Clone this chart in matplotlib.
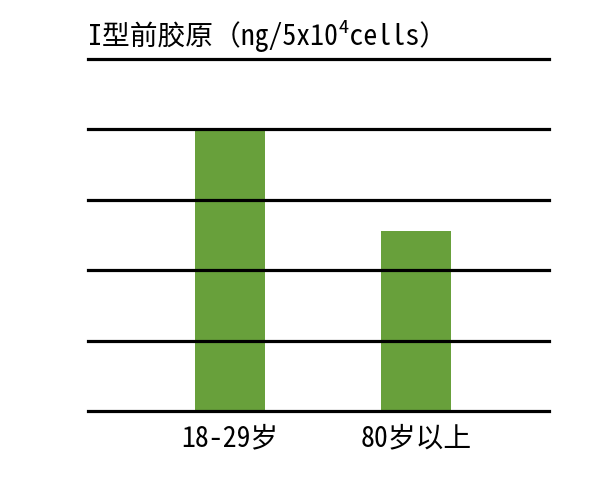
import matplotlib
matplotlib.use("Agg")
import matplotlib.pyplot as plt

plt.rcParams["font.family"] = ["Noto Sans Mono CJK SC", "DejaVu Sans Mono", "Noto Sans CJK SC"]

categories = ["18-29岁", "80岁以上"]
values = [4.0, 2.55]
gridlines = [0, 1, 2, 3, 4, 5]
title = "I型前胶原（ng/5x10⁴cells）"

fig = plt.figure(figsize=(6.0, 5.02), dpi=100)
ax = fig.add_axes([88 / 600, 1 - 412 / 502, 461 / 600, 352 / 502])

x = range(len(categories))
ax.bar(x, values, width=0.376, color="#68a03b", zorder=1)

for g in gridlines:
    ax.axhline(g, color="black", linewidth=2.3, zorder=2, clip_on=False)

ax.set_xlim(-0.763, 1.715)
ax.set_ylim(0, 5)
ax.set_xticks(list(x))
ax.set_xticklabels(categories, fontsize=20)
for lbl in ax.get_xticklabels():
    lbl.set_x(lbl.get_position()[0])
ax.tick_params(axis="x", length=0, pad=9)
ax.set_yticks([])
for s in ax.spines.values():
    s.set_visible(False)

fig.text(88 / 600, 1 - 36 / 502, title, fontsize=20, va="center", ha="left")

fig.savefig("out.png", dpi=100, facecolor="white")
